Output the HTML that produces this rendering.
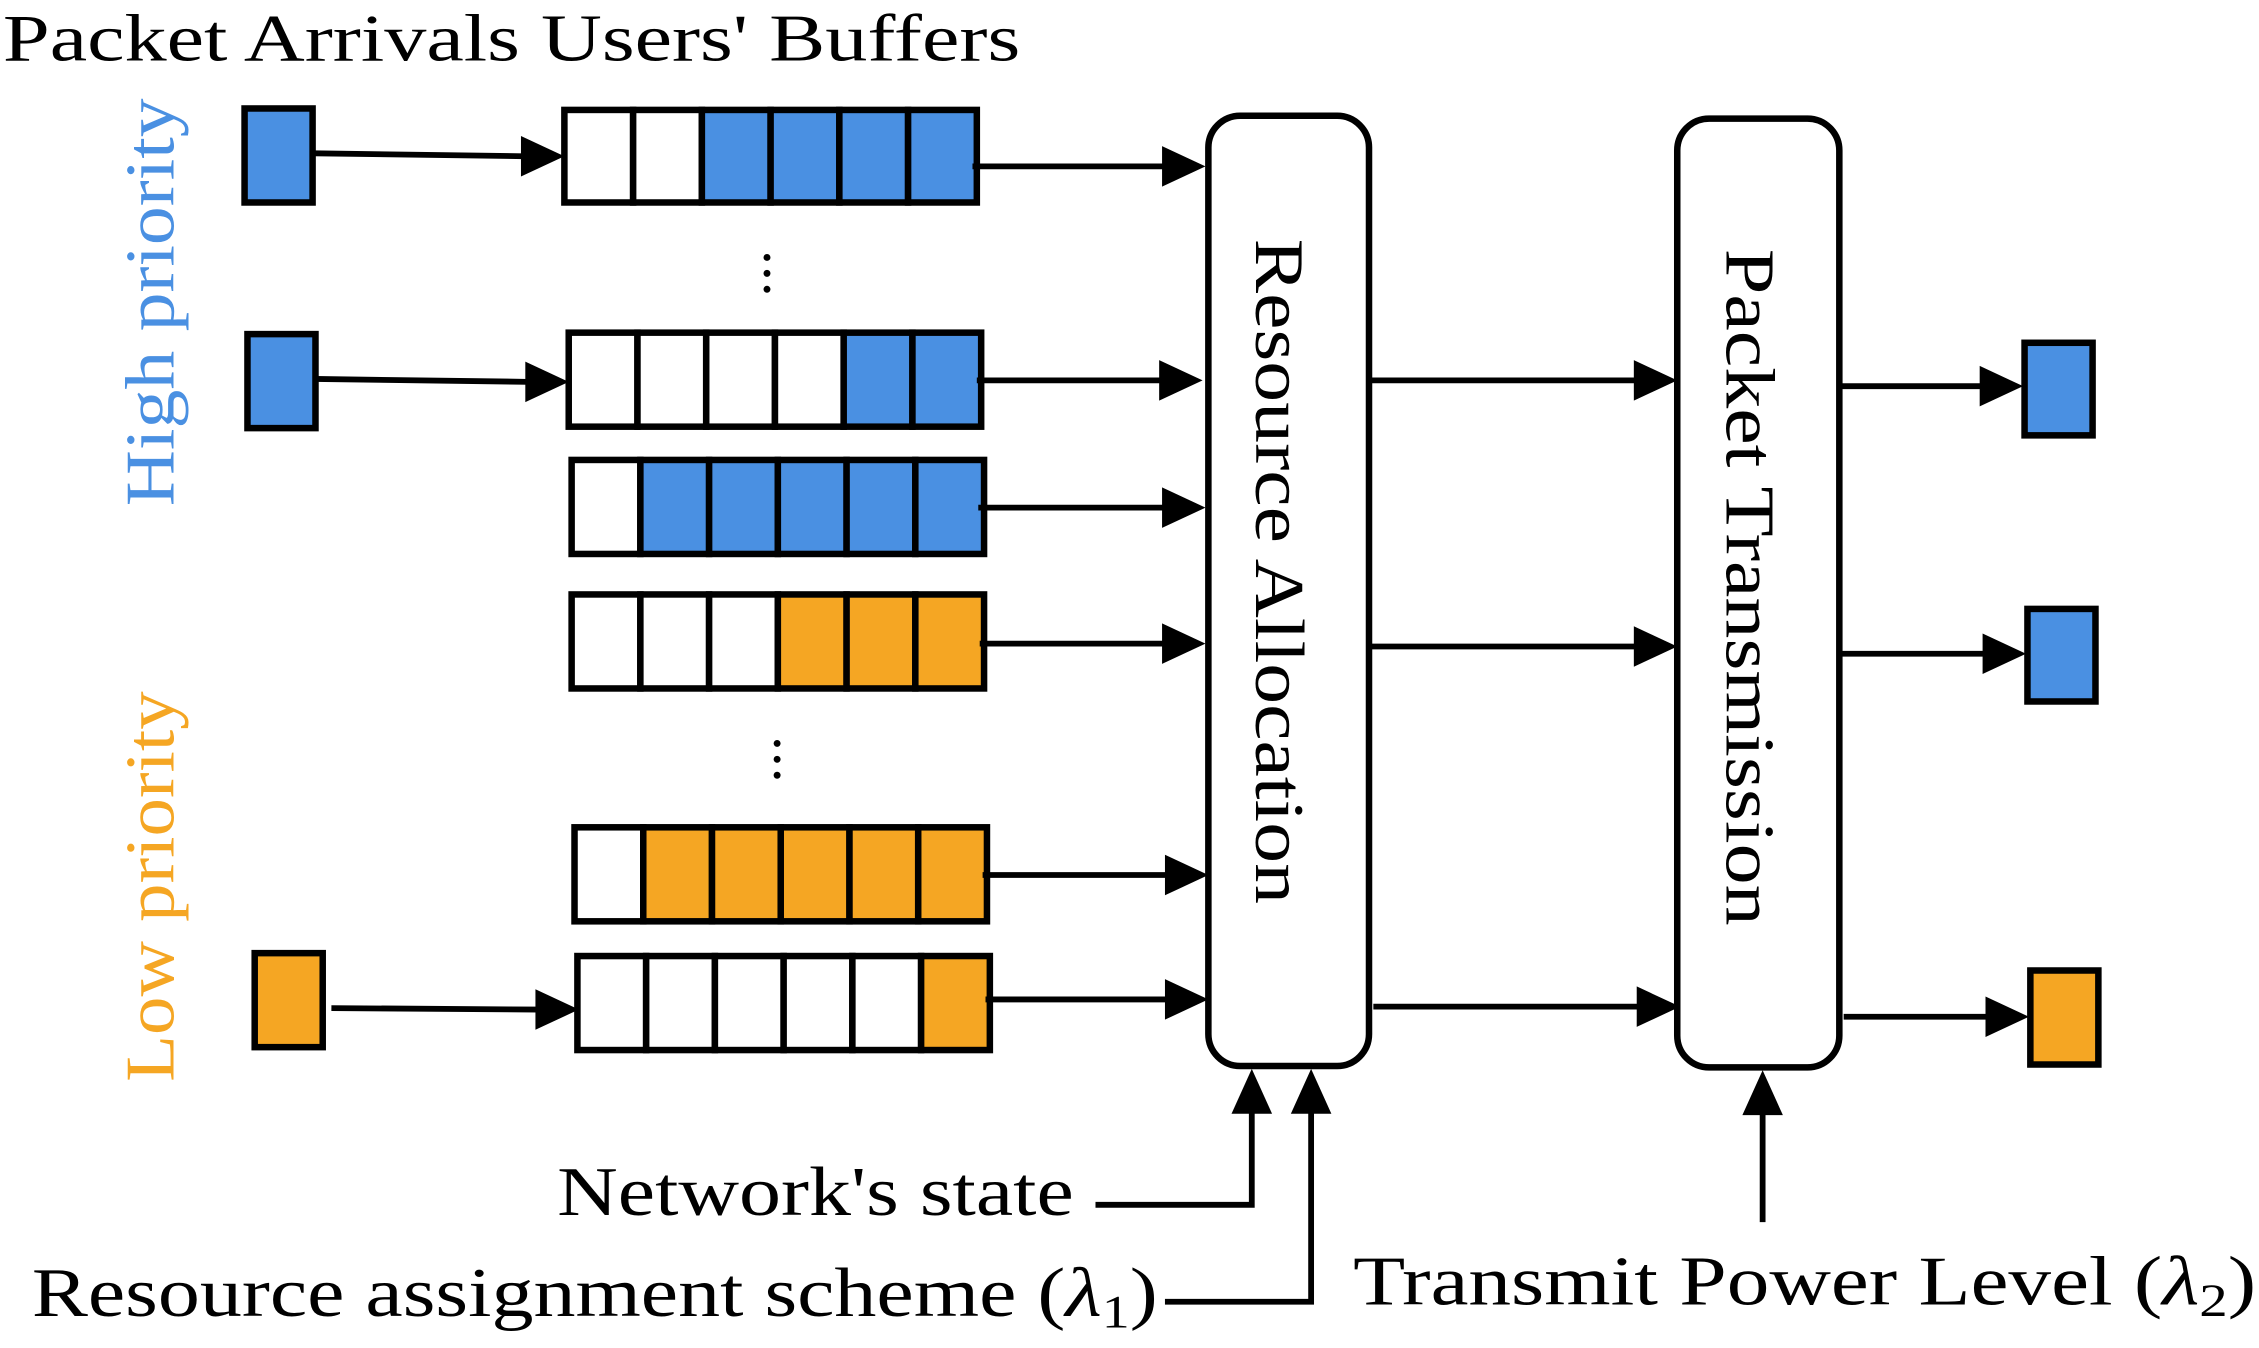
<!DOCTYPE html>
<html><head><meta charset="utf-8"><style>html,body{margin:0;padding:0;background:#fff}svg{display:block}text{font-family:"Liberation Serif",serif}</style></head>
<body>
<svg width="2259" height="1348" viewBox="0 0 1561 932" preserveAspectRatio="none" xmlns="http://www.w3.org/2000/svg">
<rect width="1561" height="932" fill="#fff"/>
<text x="2" y="42" font-size="46" textLength="703" lengthAdjust="spacingAndGlyphs">Packet Arrivals  Users' Buffers</text>
<text transform="translate(120,350) rotate(-90)" font-size="48" fill="#4a90e2" textLength="282" lengthAdjust="spacingAndGlyphs">High priority</text>
<text transform="translate(120,748) rotate(-90)" font-size="48" fill="#f5a623" textLength="270" lengthAdjust="spacingAndGlyphs">Low priority</text>

<g stroke="#000" stroke-width="4.5">
<rect x="169" y="75" width="47" height="65" fill="#4a90e2"/>
<rect x="171" y="231" width="47" height="65" fill="#4a90e2"/>
<rect x="176" y="659" width="47" height="65" fill="#f5a623"/>
<rect x="1399" y="237" width="47" height="64" fill="#4a90e2"/>
<rect x="1401" y="421" width="47" height="64" fill="#4a90e2"/>
<rect x="1403" y="671" width="47" height="65" fill="#f5a623"/>
</g>

<g stroke="#000" stroke-width="4.5">
<g transform="translate(390,76)">
<rect x="0" width="47.5" height="64" fill="#fff"/><rect x="47.5" width="47.5" height="64" fill="#fff"/><rect x="95" width="47.5" height="64" fill="#4a90e2"/><rect x="142.5" width="47.5" height="64" fill="#4a90e2"/><rect x="190" width="47.5" height="64" fill="#4a90e2"/><rect x="237.5" width="47.5" height="64" fill="#4a90e2"/>
</g>
<g transform="translate(393,230)">
<rect x="0" width="47.5" height="65" fill="#fff"/><rect x="47.5" width="47.5" height="65" fill="#fff"/><rect x="95" width="47.5" height="65" fill="#fff"/><rect x="142.5" width="47.5" height="65" fill="#fff"/><rect x="190" width="47.5" height="65" fill="#4a90e2"/><rect x="237.5" width="47.5" height="65" fill="#4a90e2"/>
</g>
<g transform="translate(395,318)">
<rect x="0" width="47.5" height="65" fill="#fff"/><rect x="47.5" width="47.5" height="65" fill="#4a90e2"/><rect x="95" width="47.5" height="65" fill="#4a90e2"/><rect x="142.5" width="47.5" height="65" fill="#4a90e2"/><rect x="190" width="47.5" height="65" fill="#4a90e2"/><rect x="237.5" width="47.5" height="65" fill="#4a90e2"/>
</g>
<g transform="translate(395,411)">
<rect x="0" width="47.5" height="65" fill="#fff"/><rect x="47.5" width="47.5" height="65" fill="#fff"/><rect x="95" width="47.5" height="65" fill="#fff"/><rect x="142.5" width="47.5" height="65" fill="#f5a623"/><rect x="190" width="47.5" height="65" fill="#f5a623"/><rect x="237.5" width="47.5" height="65" fill="#f5a623"/>
</g>
<g transform="translate(397,572)">
<rect x="0" width="47.5" height="65" fill="#fff"/><rect x="47.5" width="47.5" height="65" fill="#f5a623"/><rect x="95" width="47.5" height="65" fill="#f5a623"/><rect x="142.5" width="47.5" height="65" fill="#f5a623"/><rect x="190" width="47.5" height="65" fill="#f5a623"/><rect x="237.5" width="47.5" height="65" fill="#f5a623"/>
</g>
<g transform="translate(399,661)">
<rect x="0" width="47.5" height="65" fill="#fff"/><rect x="47.5" width="47.5" height="65" fill="#fff"/><rect x="95" width="47.5" height="65" fill="#fff"/><rect x="142.5" width="47.5" height="65" fill="#fff"/><rect x="190" width="47.5" height="65" fill="#fff"/><rect x="237.5" width="47.5" height="65" fill="#f5a623"/>
</g>
</g>

<g fill="#000">
<circle cx="530" cy="178" r="2.4"/><circle cx="530" cy="189" r="2.4"/><circle cx="530" cy="200" r="2.4"/>
<circle cx="537" cy="514" r="2.4"/><circle cx="537" cy="525" r="2.4"/><circle cx="537" cy="536" r="2.4"/>
</g>

<rect x="835" y="80" width="111" height="657" rx="22" fill="#fff" stroke="#000" stroke-width="4.5"/>
<rect x="1159" y="82" width="112" height="656" rx="22" fill="#fff" stroke="#000" stroke-width="4.5"/>
<text transform="translate(868,165) rotate(90)" font-size="48" textLength="460" lengthAdjust="spacingAndGlyphs">Resource Allocation</text>
<text transform="translate(1193,172) rotate(90)" font-size="48" textLength="468" lengthAdjust="spacingAndGlyphs">Packet Transmission</text>

<g stroke="#000" stroke-width="4" fill="none">
<path d="M217 106 L362 108"/>
<path d="M218 262 L365 264"/>
<path d="M229 697 L372 698"/>
<path d="M672 115 L805 115"/>
<path d="M675 263 L803 263"/>
<path d="M676 351 L805 351"/>
<path d="M677 445 L805 445"/>
<path d="M679 605 L807 605"/>
<path d="M681 691 L807 691"/>
<path d="M948 263 L1131 263"/>
<path d="M948 447 L1131 447"/>
<path d="M949 696 L1133 696"/>
<path d="M1272 267 L1370 267"/>
<path d="M1273 452 L1372 452"/>
<path d="M1274 703 L1374 703"/>
<path d="M757 833 L865 833 L865 768"/>
<path d="M805 900 L906 900 L906 768"/>
<path d="M1218 845 L1218 768"/>
</g>
<g fill="#000">
<polygon points="390,108 360,94 360,122"/>
<polygon points="393,264 363,250 363,278"/>
<polygon points="400,698 370,684 370,712"/>
<polygon points="833,115 803,101 803,129"/>
<polygon points="831,263 801,249 801,277"/>
<polygon points="833,351 803,337 803,365"/>
<polygon points="833,445 803,431 803,459"/>
<polygon points="835,605 805,591 805,619"/>
<polygon points="835,691 805,677 805,705"/>
<polygon points="1159,263 1129,249 1129,277"/>
<polygon points="1159,447 1129,433 1129,461"/>
<polygon points="1161,696 1131,682 1131,710"/>
<polygon points="1398,267 1368,253 1368,281"/>
<polygon points="1400,452 1370,438 1370,466"/>
<polygon points="1402,703 1372,689 1372,717"/>
<polygon points="865,739 851,770 879,770"/>
<polygon points="906,739 892,770 920,770"/>
<polygon points="1218,740 1204,771 1232,771"/>
</g>

<text x="385" y="840" font-size="48" textLength="357" lengthAdjust="spacingAndGlyphs">Network's state</text>
<text x="22" y="910" font-size="48" textLength="778" lengthAdjust="spacingAndGlyphs">Resource assignment scheme (<tspan font-style="italic">λ</tspan><tspan font-size="32" dy="8">1</tspan><tspan dy="-8">)</tspan></text>
<text x="935" y="902" font-size="48" textLength="624" lengthAdjust="spacingAndGlyphs">Transmit Power Level (<tspan font-style="italic">λ</tspan><tspan font-size="32" dy="8">2</tspan><tspan dy="-8">)</tspan></text>
</svg>
</body></html>
